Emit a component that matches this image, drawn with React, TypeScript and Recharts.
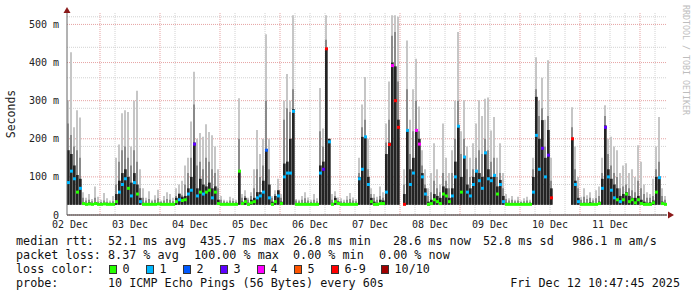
import { ComposedChart, Bar, Scatter, XAxis, YAxis, CartesianGrid } from 'recharts'

const MONO = '"DejaVu Sans Mono", "Liberation Mono", monospace'

// one smoke column every 72 minutes, 10 days starting Dec 02 10:47
const COLUMN_HOURS = 1.2
const MIN_RTT = 26.8

// highest ping of the column (light smoke)
const maxRtt = [
  301, 427, 230, 275, 256, 60, 45, 55, 42, 75,
  48, 40, 58, 44, 38, 50, 150, 185, 267, 275,
  270, 180, 300, 326, 120, 70, 45, 62, 40, 52,
  66, 38, 50, 60, 55, 45, 70, 80, 90, 130,
  150, 245, 376, 200, 215, 205, 238, 218, 209, 180,
  120, 50, 40, 38, 48, 44, 40, 306, 55, 65,
  45, 60, 120, 223, 160, 200, 474, 200, 50, 65,
  95, 55, 300, 370, 300, 524, 42, 40, 50, 60,
  46, 40, 55, 44, 333, 227, 524, 200, 55, 62,
  46, 44, 40, 50, 58, 46, 42, 150, 290, 362,
  200, 70, 55, 48, 75, 60, 240, 350, 524, 524,
  520, null, 120, 458, 250, 330, 410, 285, 170, 120,
  70, 110, 188, 120, 80, 240, 150, 110, 170, 300,
  480, 220, 301, 180, 150, 188, 240, 301, 260, 305,
  308, 222, 257, 150, 188, 110, 55, 44, 50, 40,
  48, 38, 44, 48, 40, 150, 414, 300, 360, 250,
  406, 150, null, null, null, null, null, null, 283, 180,
  100, 48, 70, 52, 60, 44, 65, 75, 150, 288,
  200, 205, 180, 170, 110, 130, 136, 110, 120, 100,
  183, 140, 80, 60, 55, 95, 180, 257, 70, 50,
]

// upper part of the spread (mid smoke)
const upperRtt = [
  240, 210, 180, 170, 150, 45, 38, 40, 36, 45,
  35, 34, 38, 35, 33, 36, 80, 140, 170, 180,
  150, 130, 170, 140, 70, 45, 38, 42, 36, 40,
  44, 35, 38, 42, 40, 36, 50, 55, 52, 80,
  110, 150, 290, 130, 140, 120, 150, 140, 120, 110,
  70, 40, 36, 34, 38, 37, 35, 200, 45, 50,
  40, 50, 70, 120, 100, 130, 300, 120, 45, 55,
  60, 45, 250, 280, 270, 330, 38, 36, 40, 44,
  38, 35, 40, 36, 220, 180, 460, 150, 40, 50,
  38, 36, 35, 40, 42, 38, 36, 110, 230, 250,
  120, 55, 45, 40, 50, 45, 190, 250, 470, 480,
  350, null, 80, 330, 160, 220, 300, 220, 130, 80,
  50, 60, 90, 70, 60, 110, 90, 70, 110, 200,
  300, 160, 200, 120, 100, 120, 150, 170, 160, 200,
  170, 140, 150, 100, 110, 70, 42, 38, 40, 36,
  38, 34, 36, 38, 35, 120, 330, 260, 280, 180,
  260, 90, null, null, null, null, null, null, 230, 120,
  70, 40, 48, 42, 45, 38, 44, 50, 110, 260,
  160, 130, 110, 100, 70, 75, 80, 70, 65, 60,
  90, 70, 55, 45, 45, 50, 120, 140, 50, 40,
]

// core of the spread around the median (dark smoke)
const coreRtt = [
  170, 160, 130, 105, 95, 32, 30, 33, 31, 34,
  30, 30, 31, 30, 29, 30, 55, 90, 110, 120,
  100, 85, 110, 80, 45, 32, 30, 31, 30, 31,
  32, 30, 30, 31, 30, 30, 45, 56, 48, 50,
  70, 100, 190, 70, 95, 80, 75, 85, 70, 75,
  40, 31, 30, 30, 31, 30, 30, 118, 35, 45,
  32, 40, 45, 60, 60, 90, 172, 80, 35, 50,
  65, 35, 135, 140, 200, 278, 31, 30, 31, 32,
  30, 30, 31, 30, 130, 140, 436, 200, 32, 45,
  35, 30, 30, 31, 32, 30, 30, 100, 205, 205,
  100, 45, 35, 32, 40, 38, 160, 190, 400, 390,
  250, null, 55, 223, 120, 150, 225, 200, 110, 70,
  35, 40, 55, 50, 45, 75, 70, 45, 70, 140,
  235, 100, 153, 80, 70, 100, 118, 110, 100, 166,
  120, 100, 105, 75, 92, 50, 32, 31, 31, 30,
  31, 30, 30, 31, 30, 100, 310, 200, 249, 150,
  223, 70, null, null, null, null, null, null, 200, 90,
  45, 31, 32, 31, 33, 30, 31, 35, 95, 235,
  120, 95, 80, 70, 50, 55, 60, 50, 45, 45,
  50, 40, 35, 32, 33, 38, 100, 100, 35, 31,
]

const medianRtt = [
  85, 115, 95, 60, 70, 30, 28, 29, 28, 30,
  28, 28, 29, 28, 28, 28, 35, 60, 80, 95,
  70, 50, 85, 55, 35, 28, 28, 28, 28, 28,
  29, 28, 28, 28, 28, 28, 35, 40, 38, 40,
  55, 65, 186, 50, 60, 55, 60, 65, 45, 60,
  30, 28, 28, 28, 28, 28, 28, 115, 30, 35,
  28, 32, 35, 45, 50, 60, 170, 45, 28, 35,
  50, 30, 100, 110, 110, 272, 28, 28, 28, 28,
  28, 28, 28, 28, 110, 120, 436, 192, 28, 35,
  30, 28, 28, 28, 28, 28, 28, 95, 120, 205,
  80, 35, 28, 28, 30, 30, 60, 185, 392, 300,
  230, null, 28, 222, 80, 110, 222, 186, 100, 55,
  28, 30, 40, 35, 30, 55, 50, 35, 50, 100,
  233, 60, 152, 60, 50, 80, 115, 90, 70, 163,
  95, 90, 104, 55, 80, 35, 28, 28, 28, 28,
  28, 28, 28, 28, 28, 60, 209, 120, 175, 100,
  157, 45, null, null, null, null, null, null, 200, 80,
  35, 28, 28, 28, 28, 28, 28, 30, 70, 230,
  100, 65, 45, 40, 35, 40, 55, 35, 40, 32,
  40, 30, 28, 28, 28, 32, 60, 98, 30, 28,
]

// lost pings out of 10
const lossCount = [
  1, 1, 1, 0, 1, 0, 0, 0, 0, 0,
  0, 0, 0, 0, 0, 0, 0, 1, 1, 1,
  0, 1, 1, 0, 1, 0, 0, 0, 0, 0,
  0, 0, 0, 0, 0, 0, 0, 1, 0, 0,
  1, 1, 3, 1, 0, 1, 0, 0, 1, 0,
  0, 0, 0, 0, 0, 0, 0, 0, 0, 0,
  0, 0, 0, 1, 1, 1, 2, 1, 0, 0,
  1, 0, 1, 1, 1, 1, 0, 0, 0, 0,
  0, 0, 0, 0, 1, 3, 7, 1, 0, 0,
  0, 0, 0, 0, 0, 0, 0, 1, 1, 1,
  1, 0, 0, 0, 0, 0, 1, 7, 4, 7,
  7, null, 7, 1, 1, 1, 4, 4, 1, 1,
  0, 0, 0, 0, 0, 0, 0, 0, 1, 1,
  1, 0, 1, 1, 1, 1, 1, 1, 1, 1,
  1, 1, 1, 0, 1, 1, 0, 0, 0, 0,
  0, 0, 0, 0, 0, 1, 1, 1, 3, 1,
  3, 7, null, null, null, null, null, null, 7, 1,
  1, 0, 0, 0, 0, 0, 0, 0, 1, 3,
  1, 1, 1, 0, 1, 0, 0, 0, 0, 0,
  0, 0, 0, 0, 0, 0, 0, 1, 0, 0,
]

const dayLabels = ['02 Dec', '03 Dec', '04 Dec', '05 Dec', '06 Dec', '07 Dec', '08 Dec', '09 Dec', '10 Dec', '11 Dec']
const dayLabelHours = [1.2, 25.2, 49.2, 73.2, 97.2, 121.2, 145.2, 169.2, 193.2, 217.2]
const midnightHours = [13.2, 37.2, 61.2, 85.2, 109.2, 133.2, 157.2, 181.2, 205.2, 229.2]
const yTicks = [0, 100, 200, 300, 400, 500]

const lossLabels = ['0', '1', '2', '3', '4', '5', '6-9', '10/10']
const lossColors = ['#26ff00', '#00b8ff', '#0059ff', '#5e00ff', '#ff00ff', '#ff5500', '#ff0000', '#a10000']

const rttStats = ['52.1 ms avg', '435.7 ms max', '26.8 ms min', '28.6 ms now', '52.8 ms sd', '986.1 m am/s']
const lossStats = ['8.37 % avg', '100.00 % max', '0.00 % min', '0.00 % now']
const probeText = '10 ICMP Echo Pings (56 Bytes) every 60s'
const stampText = 'Fri Dec 12 10:47:45 2025'

const rttX = [108, 200, 293, 393, 483, 572]
const lossX = [108, 194, 293, 379]
const swatchX = [109, 146, 183, 220, 257, 294, 331, 381]

// column centre on the time axis
const table = maxRtt.map((mx, i) => ({
  t: i * COLUMN_HOURS + COLUMN_HOURS / 2,
  light: mx == null ? null : [MIN_RTT, mx],
  mid: upperRtt[i] == null ? null : [MIN_RTT, upperRtt[i]],
  dark: coreRtt[i] == null ? null : [MIN_RTT, coreRtt[i]],
  median: medianRtt[i],
  loss: lossCount[i],
}))

const minorX: number[] = []
for (let h = 1.2; h < 240; h += 6) {
  if (!midnightHours.some((m) => Math.abs(m - h) < 0.01)) minorX.push(+h.toFixed(1))
}
const minorY: number[] = []
for (let v = 20; v <= 520; v += 20) if (v % 100 !== 0) minorY.push(v)

const lossBucket = (n: number) => (n >= 10 ? 7 : n >= 6 ? 6 : n)

const MedianTick = (props: any) => {
  const { cx, cy, payload } = props
  if (!payload || payload.median == null || cx == null || cy == null) return <g />
  return <rect x={cx - 1.5} y={cy - 1.5} width={3} height={3} fill={lossColors[lossBucket(payload.loss)]} />
}

const YTick = (props: any) => {
  const { x, y, payload } = props
  const v = payload.value
  return (
    <text x={x} y={y} dy="0.35em" textAnchor="end" fontFamily={MONO} fontSize={10} fill="#222">
      {v === 0 ? '0' : `${v} m`}
    </text>
  )
}

const txt = (x: number, top: number, s: string) => (
  <div key={s + x + top} style={{ position: 'absolute', left: x, top, whiteSpace: 'pre' }}>{s}</div>
)

export default function App() {
  return (
    <div style={{ position: 'absolute', left: 0, top: 0, width: 697, height: 297, background: '#fff', overflow: 'hidden' }}>
      <ComposedChart width={697} height={240} data={table} margin={{ top: 13, right: 30, bottom: 0, left: 27 }}>
        <CartesianGrid horizontalValues={minorY} verticalValues={minorX} stroke="#d2d2d2" strokeDasharray="1 1" />
        <CartesianGrid horizontalValues={yTicks} verticalValues={midnightHours} stroke="#e6a3a3" strokeDasharray="1 1" />
        <XAxis
          dataKey="t"
          type="number"
          domain={[0, 240]}
          ticks={dayLabelHours}
          tickFormatter={(_v: number, i: number) => dayLabels[i]}
          tickLine={false}
          axisLine={{ stroke: '#222' }}
          tick={{ fill: '#222', fontSize: 10, fontFamily: MONO }}
          tickSize={4}
          height={25}
          allowDataOverflow
        />
        {/* separate hidden axes so the three smoke layers overlap instead of grouping */}
        <XAxis xAxisId="mid" dataKey="t" type="number" domain={[0, 240]} hide allowDataOverflow />
        <XAxis xAxisId="core" dataKey="t" type="number" domain={[0, 240]} hide allowDataOverflow />
        <YAxis
          type="number"
          domain={[0, 530]}
          ticks={yTicks}
          tickLine={false}
          axisLine={{ stroke: '#666' }}
          tick={<YTick />}
          width={40}
          allowDataOverflow
        />
        <Bar dataKey="light" barSize={2} fill="#c6c6c6" isAnimationActive={false} />
        <Bar xAxisId="mid" dataKey="mid" barSize={2} fill="#8a8a8a" isAnimationActive={false} />
        <Bar xAxisId="core" dataKey="dark" barSize={3} fill="#242424" isAnimationActive={false} />
        <Scatter dataKey="median" shape={MedianTick} isAnimationActive={false} />
      </ComposedChart>

      <svg width={697} height={297} style={{ position: 'absolute', left: 0, top: 0, pointerEvents: 'none' }}>
        <polygon points="67,7 63.5,13 70.5,13" fill="#8b1a1a" />
        <polygon points="674,215 668,211.5 668,218.5" fill="#8b1a1a" />
        <text transform="translate(15,114) rotate(-90)" textAnchor="middle" fontFamily={MONO} fontSize={11.5} fill="#222">
          Seconds
        </text>
        <text transform="translate(683,5) rotate(90)" fontFamily={MONO} fontSize={8.3} fill="#bdbdbd">
          RRDTOOL / TOBI OETIKER
        </text>
      </svg>

      <div style={{ position: 'absolute', left: 0, top: 0, width: 697, height: 297, fontFamily: MONO, fontSize: 11.75, lineHeight: '14px', color: '#111' }}>
        {txt(16, 234, 'median rtt:')}
        {rttStats.map((s, i) => txt(rttX[i], 234, s))}
        {txt(16, 248, 'packet loss:')}
        {lossStats.map((s, i) => txt(lossX[i], 248, s))}
        {txt(16, 262, 'loss color:')}
        {lossLabels.map((s, i) => (
          <div key={s}>
            <div style={{ position: 'absolute', left: swatchX[i], top: 265, width: 6, height: 7, background: lossColors[i], border: '1px solid #333' }} />
            {txt(swatchX[i] + 13.5, 262, s)}
          </div>
        ))}
        {txt(16, 276, 'probe:')}
        {txt(108, 276, probeText)}
        <div style={{ position: 'absolute', right: 17, top: 276, whiteSpace: 'pre' }}>{stampText}</div>
      </div>
    </div>
  )
}
